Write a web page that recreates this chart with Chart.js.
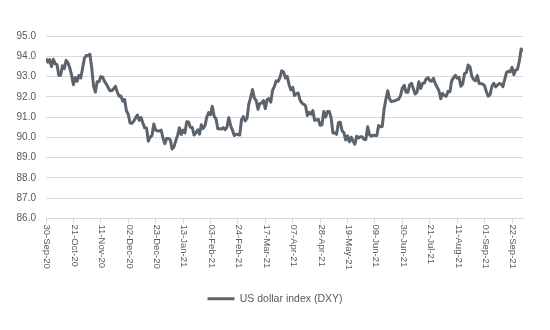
<!DOCTYPE html>
<html>
<head>
<meta charset="utf-8">
<script src="https://cdn.jsdelivr.net/npm/chart.js@4/dist/chart.umd.min.js"></script>
<style>
  html, body { margin: 0; padding: 0; background: #fff; }
  #wrap { width: 550px; height: 330px; }
</style>
</head>
<body>
<div id="wrap"><canvas id="dxyChart" width="550" height="330"></canvas></div>
<script>
// Axis labels, one every 15 trading days
const tickLabels = [
  "30-Sep-20", "21-Oct-20", "11-Nov-20", "02-Dec-20", "23-Dec-20", "13-Jan-21",
  "03-Feb-21", "24-Feb-21", "17-Mar-21", "07-Apr-21", "28-Apr-21", "19-May-21",
  "09-Jun-21", "30-Jun-21", "21-Jul-21", "11-Aug-21", "01-Sep-21", "22-Sep-21"
];
const tickStep = 15;

const seriesName = "US dollar index (DXY)";

// Daily closes, 30-Sep-20 .. 30-Sep-21 (weekdays)
const dxy = [
  93.89, 93.71, 93.84, 93.49, 93.85, 93.64, 93.59, 93.06, 93.06, 93.53,
  93.39, 93.80, 93.68, 93.43, 93.07, 92.60, 92.95, 92.77, 93.06, 92.93,
  93.40, 93.90, 94.04, 94.03, 94.10, 93.45, 92.54, 92.23, 92.74, 92.74,
  93.00, 92.97, 92.76, 92.63, 92.46, 92.30, 92.31, 92.39, 92.52, 92.24,
  92.03, 92.04, 91.79, 91.87, 91.31, 91.14, 90.71, 90.70, 90.80, 90.96,
  91.10, 90.84, 90.98, 90.71, 90.47, 90.46, 89.81, 90.02, 90.09, 90.66,
  90.36, 90.32, 90.32, 90.36, 89.97, 89.69, 89.94, 89.94, 89.88, 89.43,
  89.53, 89.83, 90.10, 90.47, 90.14, 90.36, 90.22, 90.77, 90.76, 90.50,
  90.49, 90.12, 90.23, 90.37, 90.16, 90.62, 90.44, 90.58, 91.01, 91.22,
  91.12, 91.53, 91.04, 90.92, 90.43, 90.43, 90.41, 90.48, 90.38, 90.50,
  90.97, 90.59, 90.36, 90.09, 90.16, 90.14, 90.12, 90.88, 91.03, 90.81,
  90.95, 91.65, 91.97, 92.36, 91.94, 91.82, 91.39, 91.67, 91.69, 91.82,
  91.42, 91.87, 91.92, 91.74, 92.33, 92.52, 92.79, 92.76, 92.94, 93.29,
  93.23, 92.93, 93.01, 92.60, 92.34, 92.47, 92.06, 92.16, 92.19, 91.84,
  91.70, 91.64, 91.56, 91.08, 91.24, 91.15, 91.32, 90.84, 90.86, 90.89,
  90.60, 90.62, 91.28, 91.00, 91.28, 91.28, 90.96, 90.22, 90.23, 90.15,
  90.72, 90.75, 90.33, 90.23, 89.87, 90.08, 89.78, 90.01, 89.82, 89.66,
  90.06, 89.97, 90.03, 90.03, 89.90, 89.90, 90.52, 90.13, 90.06, 90.11,
  90.09, 90.09, 90.58, 90.53, 90.54, 91.40, 91.89, 92.30, 91.90, 91.76,
  91.79, 91.81, 91.85, 91.89, 92.06, 92.44, 92.57, 92.23, 92.22, 92.59,
  92.67, 92.40, 92.14, 92.23, 92.74, 92.41, 92.66, 92.68, 92.88, 92.95,
  92.80, 92.77, 92.91, 92.65, 92.48, 92.30, 91.91, 92.17, 92.06, 92.03,
  92.27, 92.25, 92.80, 92.94, 93.06, 92.92, 92.96, 92.52, 92.63, 93.15,
  93.19, 93.57, 93.47, 93.01, 92.85, 92.79, 93.05, 92.66, 92.65, 92.63,
  92.54, 92.24, 92.03, 92.12, 92.52, 92.67, 92.49, 92.58, 92.66, 92.63,
  92.50, 92.86, 93.20, 93.27, 93.23, 93.46, 93.09, 93.32, 93.36, 93.77,
  94.36, 94.23
];

const lineColor = "#5b646d";
const gridColor = "#d9d9d9";
const textColor = "#595959";
const fontFamily = "'Liberation Sans', Arial, sans-serif";

// x labels read top-to-bottom, so they are drawn here instead of by the scale
const verticalLabels = {
  id: "verticalLabels",
  afterDraw(chart) {
    const { ctx, scales: { x }, chartArea } = chart;
    ctx.save();
    ctx.fillStyle = textColor;
    ctx.font = "9.5px " + fontFamily;
    ctx.textAlign = "left";
    ctx.textBaseline = "middle";
    tickLabels.forEach((label, k) => {
      const px = x.getPixelForValue(k * tickStep);
      ctx.save();
      ctx.translate(px + 1, chartArea.bottom + 6);
      ctx.rotate(Math.PI / 2);
      ctx.fillText(label, 0, 0);
      ctx.restore();
    });
    ctx.restore();
  }
};

new Chart(document.getElementById("dxyChart").getContext("2d"), {
  type: "line",
  data: {
    datasets: [{
      label: seriesName,
      data: dxy.map((v, i) => ({ x: i, y: v })),
      borderColor: lineColor,
      backgroundColor: lineColor,
      borderWidth: 3,
      pointRadius: 0,
      tension: 0,
      borderJoinStyle: "round"
    }]
  },
  options: {
    responsive: false,
    animation: false,
    layout: { padding: { top: 36, right: 0, left: 0, bottom: 16 } },
    plugins: {
      legend: {
        position: "bottom",
        labels: {
          boxWidth: 27,
          boxHeight: 3,
          padding: 10,
          color: textColor,
          font: { family: fontFamily, size: 10.5 },
          generateLabels(chart) {
            return Chart.defaults.plugins.legend.labels.generateLabels(chart)
              .map((item) => Object.assign(item, { lineWidth: 0 }));
          }
        }
      },
      tooltip: { enabled: false }
    },
    scales: {
      x: {
        type: "linear",
        min: 0,
        max: dxy.length - 1,
        afterFit(scale) { scale.height = 65; },
        ticks: { display: false, stepSize: tickStep, includeBounds: false },
        grid: { drawOnChartArea: false, drawTicks: true, tickLength: 5, color: gridColor },
        border: { display: true, color: gridColor }
      },
      y: {
        min: 86,
        max: 95,
        afterFit(scale) { scale.width = 46; },
        ticks: {
          stepSize: 1,
          padding: 10,
          color: textColor,
          font: { family: fontFamily, size: 10 },
          callback: (v) => v.toFixed(1)
        },
        grid: { color: gridColor, drawTicks: false },
        border: { display: false }
      },
      // empty right-hand spacer so the plot stops short of the edge
      pad: {
        position: "right",
        afterFit(scale) { scale.width = 27; },
        ticks: { display: false },
        grid: { display: false },
        border: { display: false }
      }
    }
  },
  plugins: [verticalLabels]
});
</script>
</body>
</html>
